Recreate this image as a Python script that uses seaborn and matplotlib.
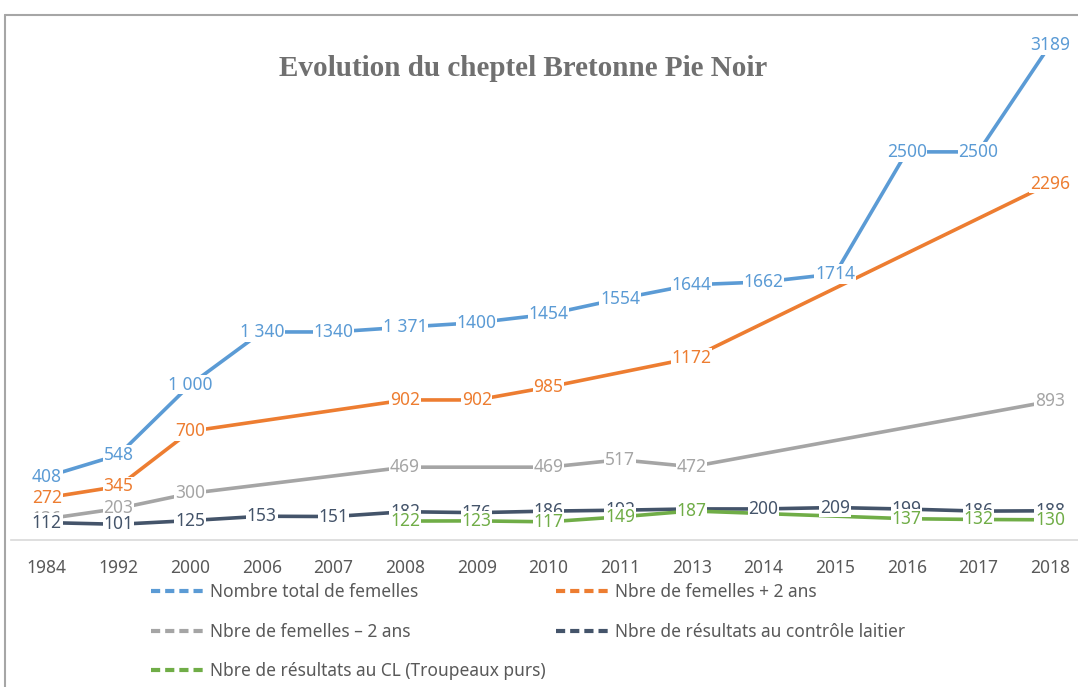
import numpy as np
import pandas as pd
import seaborn as sns
import matplotlib.pyplot as plt
from matplotlib.lines import Line2D

# Données
annees = ['1984', '1992', '2000', '2006', '2007', '2008', '2009', '2010',
          '2011', '2013', '2014', '2015', '2016', '2017', '2018']
total_femelles = [408, 548, 1000, 1340, 1340, 1371, 1400, 1454, 1554, 1644, 1662, 1714, 2500, 2500, 3189]
femelles_plus2 = [272, 345, 700, None, None, 902, 902, 985, None, 1172, None, None, None, None, 2296]
femelles_moins2 = [136, 203, 300, None, None, 469, None, 469, 517, 472, None, None, None, None, 893]
controle_laitier = [112, 101, 125, 153, 151, 182, 176, 186, 192, 200, 200, 209, 199, 186, 188]
cl_purs = [None, None, None, None, None, 122, 123, 117, 149, 187, None, None, 137, 132, 130]

etiquettes_total = ['408', '548', '1 000', '1 340', '1340', '1 371', '1400', '1454', '1554', '1644', '1662', '1714', '2500', '2500', '3189']

noms = ['Nombre total de femelles', 'Nbre de femelles + 2 ans', 'Nbre de femelles \u2013 2 ans',
        'Nbre de résultats au contrôle laitier', 'Nbre de résultats au CL (Troupeaux purs)']
series = [total_femelles, femelles_plus2, femelles_moins2, controle_laitier, cl_purs]
couleurs = ['#5B9BD5', '#ED7D31', '#A5A5A5', '#44546A', '#70AD47']

# Tableau long, valeurs manquantes supprimées (les lignes relient les points)
lignes = []
for nom, vals in zip(noms, series):
    for i, v in enumerate(vals):
        if v is not None:
            lignes.append({'x': i, 'valeur': v, 'serie': nom})
df = pd.DataFrame(lignes)

sns.set_style('white')
plt.rcParams['font.family'] = ['Noto Sans', 'DejaVu Sans']

fig = plt.figure(figsize=(10.78, 6.87), dpi=100)
ax = fig.add_axes([11 / 1078, 0.214, 1 - 11 / 1078, 0.757])

sns.lineplot(data=df, x='x', y='valeur', hue='serie', hue_order=noms,
             palette=dict(zip(noms, couleurs)), linewidth=2.6, ax=ax,
             legend=False, sort=True, zorder=2)

# Étiquettes de données
for k, (vals, c) in enumerate(zip(series, couleurs)):
    for i, v in enumerate(vals):
        if v is None:
            continue
        txt = etiquettes_total[i] if k == 0 else str(v)
        ax.text(i, v, txt, ha='center', va='center', fontsize=12.5, color=c,
                zorder=3 + k * 0.1,
                bbox=dict(facecolor='white', edgecolor='none', pad=0.5))

ax.set_xlim(-0.5, 14.39)
ax.set_ylim(0, 3350)
ax.set_xticks(range(len(annees)))
ax.set_xticklabels(annees, fontsize=12.5, color='#595959')
ax.set_yticks([])
ax.set_xlabel('')
ax.set_ylabel('')
ax.tick_params(axis='x', length=0, pad=14)
for s in ['top', 'right', 'left']:
    ax.spines[s].set_visible(False)
ax.spines['bottom'].set_color('#d9d9d9')
ax.spines['bottom'].set_linewidth(1.2)

# Légende (ordre ligne par ligne)
poignees = [Line2D([0], [0], color=c, linewidth=3, linestyle=(0, (2.2, 1.2))) for c in couleurs]
ordre = [0, 2, 4, 1, 3]
fig.legend([poignees[i] for i in ordre], [noms[i] for i in ordre],
           ncol=2, loc='upper left', bbox_to_anchor=(151 / 1078, 1 - 583 / 687),
           frameon=False, fontsize=12.5, labelcolor='#595959',
           handlelength=3.2, handletextpad=0.2, columnspacing=0.6,
           labelspacing=1.25, borderpad=0, borderaxespad=0)

fig.text(523 / 1078, 1 - 68 / 687, 'Evolution du cheptel Bretonne Pie Noir',
         ha='center', va='center', fontsize=21, fontweight='bold',
         color='#707070', family=['Liberation Serif', 'DejaVu Serif'])

# Cadre du graphique
fig.add_artist(Line2D([5 / 1078, 1], [1 - 15 / 687, 1 - 15 / 687], color='#a6a6a6', linewidth=1.5))
fig.add_artist(Line2D([5 / 1078, 5 / 1078], [0, 1 - 15 / 687], color='#a6a6a6', linewidth=1.5))

fig.savefig('out.png', dpi=100)
